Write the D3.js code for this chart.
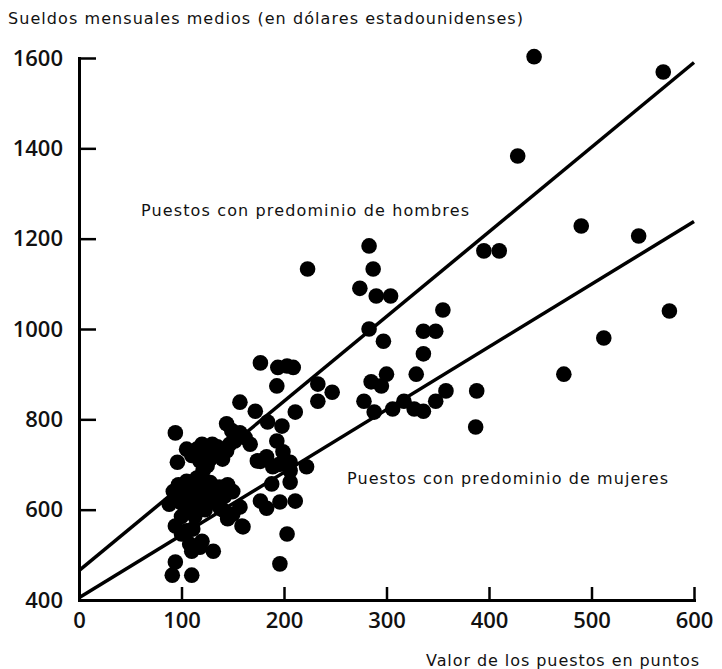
<!DOCTYPE html>
<html>
<head>
<meta charset="utf-8">
<script src="https://cdn.jsdelivr.net/npm/d3@7"></script>
<style>
  body { margin: 0; background: #fff; }
  svg { font-family: "DejaVu Sans", sans-serif; }
</style>
</head>
<body>
<div id="chart"></div>
<script>
// valores de los puestos (puntos) y sueldos medios
var puntos = [94, 96, 88, 100, 92, 97, 105, 112, 118, 125, 131, 137, 147, 142, 108, 115, 123, 113, 100,
  131, 137, 150, 157, 160, 145, 94, 105, 100, 108, 118, 131, 110, 120, 94, 91, 110,
  105, 115, 125, 135, 118, 125, 144, 147, 121, 110, 130, 140, 152, 144, 149, 157, 162,
  167, 157, 172, 184, 198, 211, 177, 194, 203, 209, 193, 193, 233, 247, 233,
  177, 183, 189, 199, 206, 206, 195, 222, 188, 206, 177, 183, 196, 211, 159, 203, 196,
  223, 274, 283, 287, 290, 304, 283, 297, 336, 285, 300, 295, 329, 278, 288, 306, 317, 327, 336,
  348, 358, 388, 387, 336, 348, 355, 395, 410, 428, 444, 473, 490, 512, 546, 570, 576,
  100, 110, 120, 128, 135, 145, 150, 140, 125, 115, 105, 130, 120, 138, 115, 128, 174, 111];
var sueldos = [770, 705, 612, 615, 640, 655, 663, 650, 657, 645, 641, 650, 641, 630, 625, 600, 600, 585, 585,
  619, 606, 590, 606, 562, 580, 564, 553, 546, 524, 517, 508, 508, 530, 484, 455, 455,
  734, 734, 734, 739, 708, 697, 730, 745, 686, 720, 725, 712, 752, 790, 775, 770, 760,
  745, 838, 818, 794, 785, 816, 925, 915, 918, 915, 874, 752, 878, 860, 840,
  707, 717, 695, 728, 705, 686, 700, 695, 657, 661, 619, 603, 617, 619, 564, 546, 480,
  1133, 1090, 1184, 1133, 1073, 1073, 1000, 973, 945, 883, 900, 874, 900, 840, 816, 823, 840, 823, 818,
  840, 863, 863, 783, 995, 995, 1042, 1173, 1173, 1383, 1603, 900, 1228, 980, 1206, 1569, 1040,
  630, 640, 625, 660, 630, 655, 640, 600, 615, 670, 600, 745, 745, 720, 720, 712, 708, 557];

var ticksX = [0, 100, 200, 300, 400, 500, 600];
var ticksY = [400, 600, 800, 1000, 1200, 1400, 1600];

// rectas de regresion (extremos)
var rectaHombres = [[0, 465], [600, 1590]];
var rectaMujeres = [[0, 405], [600, 1238]];

var width = 722, height = 669;

var svg = d3.select("#chart").append("svg")
    .attr("width", width)
    .attr("height", height);

var x = d3.scaleLinear().domain([0, 600]).range([79, 694]);
var y = d3.scaleLinear().domain([400, 1600]).range([600, 58]);

// ejes
var gx = svg.append("g")
    .attr("transform", "translate(0," + y(400) + ")")
    .call(d3.axisBottom(x).tickValues(ticksX).tickFormat(d3.format("d"))
      .tickSizeInner(-13).tickSizeOuter(0).tickPadding(12));
var gy = svg.append("g")
    .attr("transform", "translate(" + x(0) + ",0)")
    .call(d3.axisLeft(y).tickValues(ticksY).tickFormat(d3.format("d"))
      .tickSizeInner(-17).tickSizeOuter(0).tickPadding(16));

[gx, gy].forEach(function(g) {
  g.select(".domain").attr("stroke", "#000").attr("stroke-width", 3).attr("stroke-linecap", "square");
  g.selectAll(".tick line").attr("stroke", "#000").attr("stroke-width", 2.5);
  g.selectAll(".tick text")
    .attr("fill", "#111")
    .style("font-size", "22px")
    .style("font-weight", "600")
    .style("font-family", "'Open Sans', 'DejaVu Sans', sans-serif");
});
gy.selectAll(".tick").filter(function(d) { return d === 400; }).select("line").remove();
gx.selectAll(".tick").filter(function(d) { return d === 0; }).select("line").remove();

// rectas
var line = d3.line().x(function(d) { return x(d[0]); }).y(function(d) { return y(d[1]); });
[rectaHombres, rectaMujeres].forEach(function(r) {
  svg.append("path")
    .attr("d", line(r))
    .attr("fill", "none")
    .attr("stroke", "#000")
    .attr("stroke-width", 3.5);
});

// puntos
svg.append("g").selectAll("circle")
    .data(puntos)
    .enter()
    .append("circle")
    .attr("cx", function(d) { return x(d); })
    .attr("cy", function(d, i) { return y(sueldos[i]); })
    .attr("r", 7.8)
    .attr("fill", "#000");

// textos
function etiqueta(tx, ty, largo, texto) {
  svg.append("text")
    .attr("x", tx).attr("y", ty)
    .attr("textLength", largo).attr("lengthAdjust", "spacing")
    .style("font-size", "16px")
    .attr("fill", "#111")
    .text(texto);
}
etiqueta(8, 24, 515, "Sueldos mensuales medios (en dólares estadounidenses)");
etiqueta(141, 216, 328, "Puestos con predominio de hombres");
etiqueta(347, 484, 321, "Puestos con predominio de mujeres");
etiqueta(426, 666, 273, "Valor de los puestos en puntos");
</script>
</body>
</html>
